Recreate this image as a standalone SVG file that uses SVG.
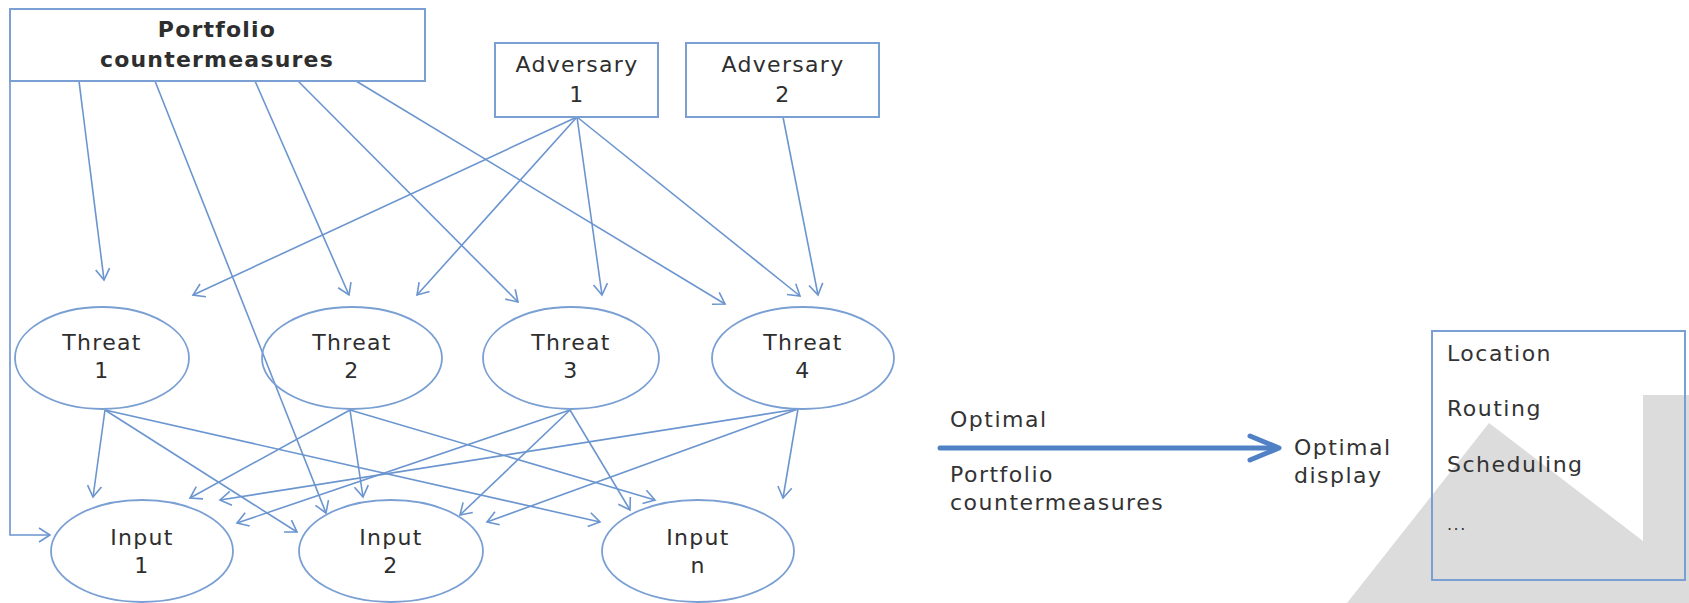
<svg xmlns="http://www.w3.org/2000/svg" width="1689" height="603" viewBox="0 0 1689 603">
  <style>
    .box { fill: none; stroke: #7a9fd3; stroke-width: 2; }
    .ell { fill: none; stroke: #7a9fd3; stroke-width: 1.8; }
    .edge { fill: none; stroke: #6b95cf; stroke-width: 1.6; marker-end: url(#ah); }
    .lbl { font-family: "DejaVu Sans", "Liberation Sans", sans-serif; font-size: 22px; fill: #2e2e2e; text-anchor: middle; letter-spacing: 1.3px; }
    .bold { font-weight: bold; font-size: 22px; letter-spacing: 1.2px; }
    .txt { font-family: "DejaVu Sans", "Liberation Sans", sans-serif; font-size: 22px; fill: #333333; letter-spacing: 1.5px; }
  </style>
  <defs>
    <marker id="ah" markerUnits="userSpaceOnUse" markerWidth="16" markerHeight="18" refX="12" refY="8" orient="auto" overflow="visible">
      <path d="M1,1 L12,8 L1,15" fill="none" stroke="#6b95cf" stroke-width="1.6"/>
    </marker>
  </defs>
  <rect width="1689" height="603" fill="#ffffff"/>

  <!-- background watermark shape -->
  <polygon points="1347,603 1489,423 1643,541 1643,395 1689,395 1689,603" fill="#dcdcdc"/>

  <g id="connectors">
    <!-- Portfolio countermeasures -->
    <path class="edge" d="M79,81 L104,280"/>
    <path class="edge" d="M155,81 L326,513"/>
    <path class="edge" d="M255,81 L349,295"/>
    <path class="edge" d="M298,81 L518,302"/>
    <path class="edge" d="M356,81 L725,304"/>
    <path class="edge" d="M10,81 L10,535 L50,535"/>
    <!-- Adversary 1 -->
    <path class="edge" d="M577,117 L193,295"/>
    <path class="edge" d="M577,117 L417,295"/>
    <path class="edge" d="M577,117 L602,295"/>
    <path class="edge" d="M577,117 L800,296"/>
    <!-- Adversary 2 -->
    <path class="edge" d="M783,117 L818,295"/>
    <!-- Threat 1 -->
    <path class="edge" d="M105,410 L93,497"/>
    <path class="edge" d="M105,410 L297,532"/>
    <path class="edge" d="M105,410 L600,522"/>
    <!-- Threat 2 -->
    <path class="edge" d="M350,410 L190,498"/>
    <path class="edge" d="M350,410 L363,497"/>
    <path class="edge" d="M350,410 L655,500"/>
    <!-- Threat 3 -->
    <path class="edge" d="M570,410 L237,523"/>
    <path class="edge" d="M570,410 L460,515"/>
    <path class="edge" d="M570,410 L630,510"/>
    <!-- Threat 4 -->
    <path class="edge" d="M798,409 L220,500"/>
    <path class="edge" d="M798,409 L487,522"/>
    <path class="edge" d="M798,409 L783,498"/>
  </g>

  <g id="portfolio">
    <rect class="box" x="10" y="9" width="415" height="72"/>
    <text class="lbl bold" x="217" y="37">Portfolio</text>
    <text class="lbl bold" x="217" y="67">countermeasures</text>
  </g>
  <g id="adversary1">
    <rect class="box" x="495" y="43" width="163" height="74"/>
    <text class="lbl" x="577" y="72">Adversary</text>
    <text class="lbl" x="577" y="102">1</text>
  </g>
  <g id="adversary2">
    <rect class="box" x="686" y="43" width="193" height="74"/>
    <text class="lbl" x="783" y="72">Adversary</text>
    <text class="lbl" x="783" y="102">2</text>
  </g>

  <g id="threat1">
    <ellipse class="ell" cx="102" cy="358" rx="87" ry="51"/>
    <text class="lbl" x="102" y="350">Threat</text>
    <text class="lbl" x="102" y="378">1</text>
  </g>
  <g id="threat2">
    <ellipse class="ell" cx="352" cy="358" rx="90" ry="51"/>
    <text class="lbl" x="352" y="350">Threat</text>
    <text class="lbl" x="352" y="378">2</text>
  </g>
  <g id="threat3">
    <ellipse class="ell" cx="571" cy="358" rx="88" ry="51"/>
    <text class="lbl" x="571" y="350">Threat</text>
    <text class="lbl" x="571" y="378">3</text>
  </g>
  <g id="threat4">
    <ellipse class="ell" cx="803" cy="358" rx="91" ry="51"/>
    <text class="lbl" x="803" y="350">Threat</text>
    <text class="lbl" x="803" y="378">4</text>
  </g>

  <g id="input1">
    <ellipse class="ell" cx="142" cy="551" rx="91" ry="51"/>
    <text class="lbl" x="142" y="545">Input</text>
    <text class="lbl" x="142" y="573">1</text>
  </g>
  <g id="input2">
    <ellipse class="ell" cx="391" cy="551" rx="92" ry="51"/>
    <text class="lbl" x="391" y="545">Input</text>
    <text class="lbl" x="391" y="573">2</text>
  </g>
  <g id="inputn">
    <ellipse class="ell" cx="698" cy="551" rx="96" ry="51"/>
    <text class="lbl" x="698" y="545">Input</text>
    <text class="lbl" x="698" y="573">n</text>
  </g>

  <g id="optimal-arrow">
    <path d="M940,448 L1276,448" stroke="#4f81c4" stroke-width="5" stroke-linecap="round" fill="none"/>
    <path d="M1250,436 L1279,448 L1250,460" stroke="#4f81c4" stroke-width="5" stroke-linecap="round" stroke-linejoin="round" fill="none"/>
    <text class="txt" x="950" y="427">Optimal</text>
    <text class="txt" x="950" y="482">Portfolio</text>
    <text class="txt" x="950" y="510">countermeasures</text>
  </g>

  <g id="optimal-display">
    <text class="txt" x="1294" y="455">Optimal</text>
    <text class="txt" x="1294" y="483">display</text>
  </g>

  <g id="display-list">
    <rect class="box" x="1432" y="331" width="253" height="249"/>
    <text class="txt" x="1447" y="361">Location</text>
    <text class="txt" x="1447" y="416">Routing</text>
    <text class="txt" x="1447" y="472">Scheduling</text>
    <text class="txt" x="1447" y="530" style="font-size:16px">...</text>
  </g>
</svg>
